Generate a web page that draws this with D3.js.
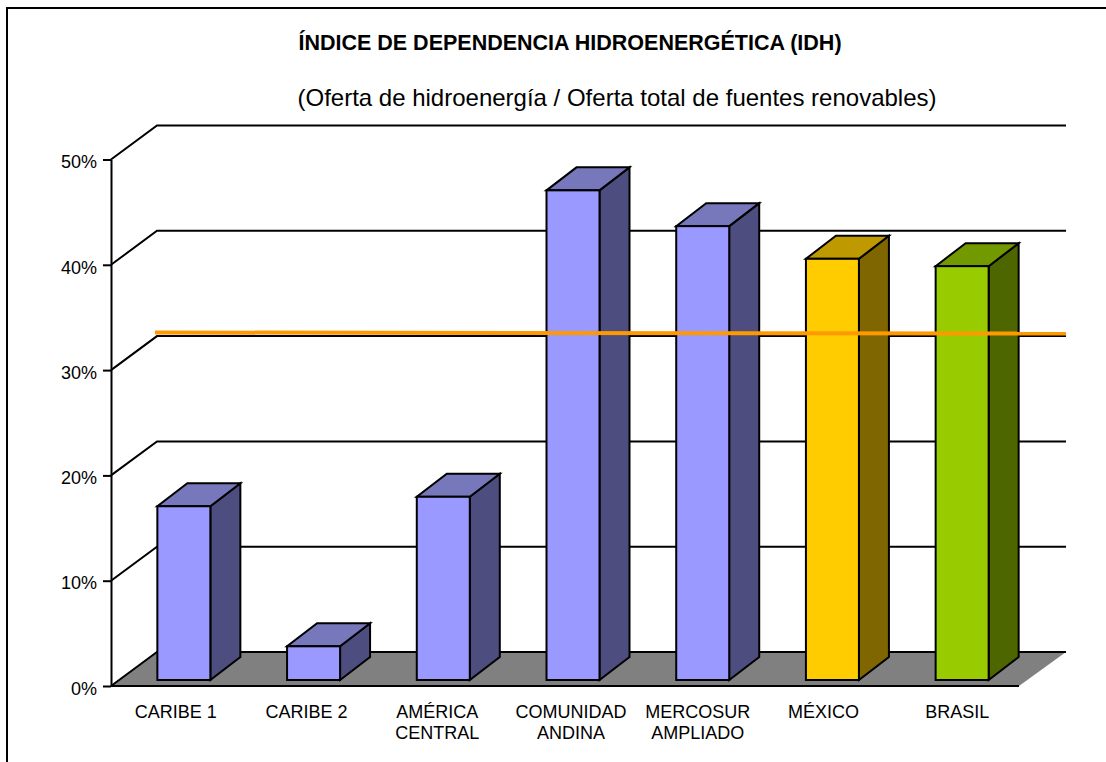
<!DOCTYPE html>
<html>
<head>
<meta charset="utf-8">
<script src="https://d3js.org/d3.v7.min.js"></script>
<style>
  html, body { margin: 0; padding: 0; background: #fff; }
  text { font-family: "Liberation Sans", Arial, sans-serif; fill: #000; }
</style>
</head>
<body>
<div id="canvas"></div>
<script>
(function(){

    var categories = [
        ["CARIBE 1"],
        ["CARIBE 2"],
        ["AMÉRICA", "CENTRAL"],
        ["COMUNIDAD", "ANDINA"],
        ["MERCOSUR", "AMPLIADO"],
        ["MÉXICO"],
        ["BRASIL"]
    ];
    var values = [16.5, 3.2, 17.4, 46.5, 43.1, 40.0, 39.3];
    var ticks = [0, 10, 20, 30, 40, 50];
    var refLine = [33.0, 32.9];   // orange line, left and right end

    var blue   = {front: "#9999ff", top: "#7777bb", side: "#4d4d80"};
    var yellow = {front: "#ffcc00", top: "#bf9900", side: "#806600"};
    var green  = {front: "#99cc00", top: "#739900", side: "#4d6600"};
    var barColors = [blue, blue, blue, blue, blue, yellow, green];

    var svg = d3.select("#canvas")
                .append("svg")
                .attr("width", 1106)
                .attr("height", 762)
                .style("display", "block");

    // frame, only left and top fall inside the picture
    svg.append("path")
       .attr("d", "M7,762V8H1106")
       .attr("fill", "none")
       .attr("stroke", "#000")
       .attr("stroke-width", 2);

    svg.append("text")
       .attr("x", 570).attr("y", 50)
       .attr("text-anchor", "middle")
       .attr("font-size", 21.5)
       .attr("font-weight", "bold")
       .text("ÍNDICE DE DEPENDENCIA HIDROENERGÉTICA (IDH)");

    svg.append("text")
       .attr("x", 617).attr("y", 106)
       .attr("text-anchor", "middle")
       .attr("font-size", 24)
       .text("(Oferta de hidroenergía / Oferta total de fuentes renovables)");

    var left = 111, right = 1019, bottom = 686, top = 159.5;
    var wallDx = 46, wallDy = -34;     // floor depth
    var barDx = 30, barDy = -23;       // bar depth
    var barW = 53;

    var x = d3.scaleBand()
              .domain(d3.range(categories.length))
              .range([left, right]);

    var y = d3.scaleLinear().domain([0, 50]).range([bottom, top]);

    // bars stand slightly behind the front edge of the floor
    var barX = function(i){ return x(i) + (x.bandwidth() - barW) / 2 + 8; };
    var barY = function(v){ return y(v) - 6; };

    // labels in the reference do not sit exactly on the band centres
    var labelShift = [0, 1, 2, 6, 3, -1, 3];

    // floor
    svg.append("path")
       .attr("d", "M" + left + "," + bottom + "L" + right + "," + bottom +
                  "L" + (right + wallDx + 1) + "," + (bottom + wallDy) +
                  "L" + (left + wallDx) + "," + (bottom + wallDy) + "Z")
       .attr("fill", "#808080");

    svg.append("line")
       .attr("x1", left).attr("x2", right)
       .attr("y1", bottom).attr("y2", bottom)
       .attr("stroke", "#000").attr("stroke-width", 2);

    // wall grid lines and the diagonals that join them to the axis
    ticks.forEach(function(t){
        svg.append("path")
           .attr("d", "M" + left + "," + y(t) +
                      "L" + (left + wallDx) + "," + (y(t) + wallDy) +
                      "H" + (right + wallDx + 1))
           .attr("fill", "none")
           .attr("stroke", "#000")
           .attr("stroke-width", 2);
    });

    // y axis
    var yAxis = d3.axisLeft(y)
                  .tickValues(ticks)
                  .tickSize(8)
                  .tickPadding(6)
                  .tickSizeOuter(0)
                  .tickFormat(function(d){ return d + "%"; });

    var gy = svg.append("g")
                .attr("transform", "translate(" + left + ",0)")
                .call(yAxis);
    gy.selectAll("path, line").attr("stroke", "#000").attr("stroke-width", 2);
    gy.selectAll("text")
      .attr("font-size", 18)
      .attr("font-family", "Liberation Sans")
      .attr("fill", "#000")
      .attr("y", 2.5);

    // x axis labels
    var xAxis = d3.axisBottom(x).tickSize(0).tickFormat("");
    var gx = svg.append("g")
                .attr("transform", "translate(0," + bottom + ")")
                .call(xAxis);
    gx.select(".domain").remove();
    gx.selectAll(".tick").each(function(i){
        var label = d3.select(this).select("text")
                      .attr("font-size", 18)
                      .attr("font-family", "Liberation Sans")
                      .attr("fill", "#000")
                      .attr("dy", 0);
        categories[i].forEach(function(line, k){
            label.append("tspan")
                 .attr("x", labelShift[i])
                 .attr("y", 32 + k * 21)
                 .text(line);
        });
    });

    // bars
    var bars = svg.selectAll(".bar")
                  .data(values)
                  .enter()
                  .append("g")
                  .attr("class", "bar")
                  .attr("stroke", "#000")
                  .attr("stroke-width", 2)
                  .attr("stroke-linejoin", "miter");

    bars.append("path")   // side
        .attr("d", function(d, i){
            var x1 = barX(i) + barW, y0 = barY(0), y1 = barY(d);
            return "M" + x1 + "," + y0 + "V" + y1 +
                   "L" + (x1 + barDx) + "," + (y1 + barDy) +
                   "V" + (y0 + barDy) + "Z";
        })
        .attr("fill", function(d, i){ return barColors[i].side; });

    bars.append("path")   // top
        .attr("d", function(d, i){
            var x0 = barX(i), y1 = barY(d);
            return "M" + x0 + "," + y1 + "H" + (x0 + barW) +
                   "L" + (x0 + barW + barDx) + "," + (y1 + barDy) +
                   "H" + (x0 + barDx) + "Z";
        })
        .attr("fill", function(d, i){ return barColors[i].top; });

    bars.append("rect")   // front
        .attr("x", function(d, i){ return barX(i); })
        .attr("y", function(d){ return barY(d); })
        .attr("width", barW)
        .attr("height", function(d){ return barY(0) - barY(d); })
        .attr("fill", function(d, i){ return barColors[i].front; });

    // orange reference line over everything
    svg.append("line")
       .attr("x1", left + wallDx - 2)
       .attr("x2", right + wallDx + 1)
       .attr("y1", barY(refLine[0]))
       .attr("y2", barY(refLine[1]))
       .attr("stroke", "#ff9900")
       .attr("stroke-width", 4);

})();
</script>
</body>
</html>
